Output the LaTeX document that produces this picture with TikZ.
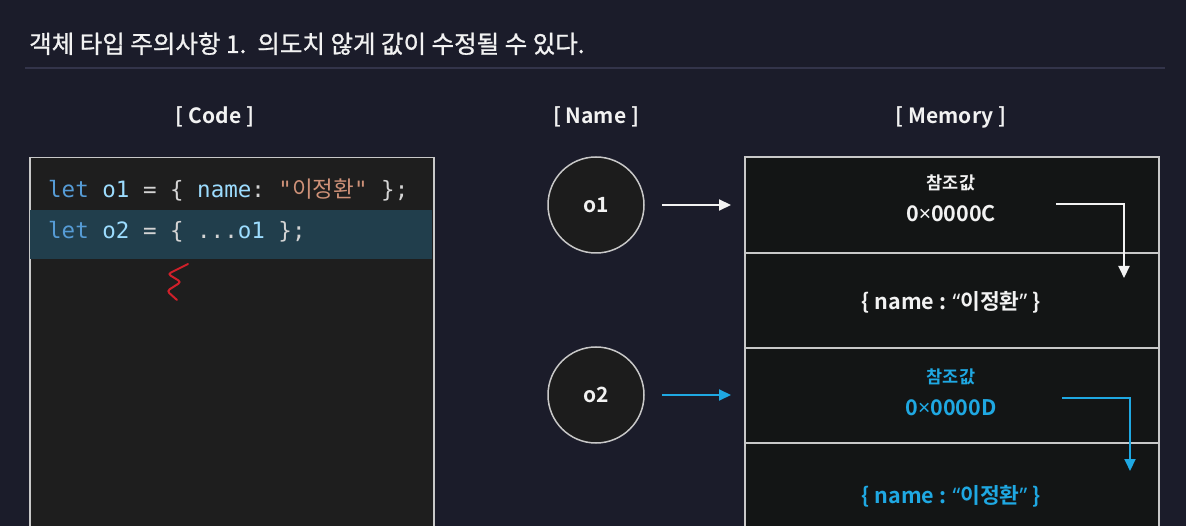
\documentclass[tikz,border=0pt]{standalone}
\usepackage{fontspec}
\setmainfont{Noto Sans CJK KR}[BoldFont={Noto Sans CJK KR Bold}]
\setmonofont{DejaVu Sans Mono}
\newfontfamily\hangulmono{Noto Sans CJK KR}
\newfontfamily\titlefont{Noto Sans CJK KR}[FakeBold=1]
\newfontfamily\latinsans{Noto Sans}
\newcommand{\mtimes}{{\latinsans ×}}
\newcommand{\openq}{{\latinsans “}}
\newcommand{\closeq}{{\latinsans ”}}
\usetikzlibrary{arrows.meta,positioning}

\definecolor{bgnavy}{HTML}{1B1C2A}
\definecolor{rulegray}{HTML}{33344A}
\definecolor{linegray}{HTML}{C8C8C8}
\definecolor{codefill}{HTML}{1E1E1E}
\definecolor{hlteal}{HTML}{213E4C}
\definecolor{memfill}{HTML}{131515}
\definecolor{circfill}{HTML}{1C1C1C}
\definecolor{kwblue}{HTML}{569CD6}
\definecolor{varblue}{HTML}{9CDCFE}
\definecolor{punct}{HTML}{D4D4D4}
\definecolor{strorange}{HTML}{CE9178}
\definecolor{copyblue}{HTML}{1FA8E2}
\definecolor{redmark}{HTML}{D0202A}
\definecolor{textwhite}{HTML}{F2F2F2}

\begin{document}
\begin{tikzpicture}[
    x=1pt, y=-1pt,
    cell/.style={rectangle, draw=linegray, line width=1.5pt, fill=memfill, minimum width=414pt, minimum height=95pt, inner sep=0pt, outer sep=0pt},
    namecircle/.style={circle, draw=linegray, line width=1.5pt, fill=circfill, minimum size=96pt, text=textwhite, font=\bfseries\fontsize{21}{24}\selectfont},
    header/.style={text=textwhite, font=\bfseries\fontsize{21}{24}\selectfont},
    memtext/.style={inner sep=0pt, font=\bfseries\fontsize{21.5}{24}\selectfont},
    reftext/.style={inner sep=0pt, font=\bfseries\fontsize{17.5}{20}\selectfont},
    codeline/.style={anchor=base west, inner sep=0pt, font=\ttfamily\fontsize{22.5}{26}\selectfont},
    arrow/.style={-{Triangle[length=12pt,width=11pt]}, line width=2pt}
]
    \path[use as bounding box, clip] (0,0) rectangle (1186,526);
    \fill[bgnavy] (0,0) rectangle (1186,526);

    % title
    \node[anchor=base west, inner sep=0pt, text=textwhite, font=\titlefont\fontsize{24.5}{28}\selectfont] (title) at (29,53) {객체 타입 주의사항 1.\ \ 의도치 않게 값이 수정될 수 있다.};
    \draw[rulegray, line width=1.5pt] (25,68) -- (1165,68);

    % column headers
    \node[header] (codehead) at (215,117) {[ Code ]};
    \node[header] (namehead) at (596,117) {[ Name ]};
    \node[header] (memhead) at (951,117) {[ Memory ]};

    % code panel
    \node[rectangle, draw=linegray, line width=1.5pt, fill=codefill, minimum width=404pt, minimum height=390pt, anchor=north west] (code) at (29,157) {};
    \fill[hlteal] (30,210) rectangle (432,259);
    \node[codeline] (line1) at (48,198) {\color{kwblue}let \color{varblue}o1 \color{punct}= \{ \color{varblue}name\color{punct}: \color{strorange}"{\hangulmono 이정환}" \color{punct}\};};
    \node[codeline] (line2) at (48,239) {\color{kwblue}let \color{varblue}o2 \color{punct}= \{ ...\color{varblue}o1 \color{punct}\};};
    \draw[redmark, line width=2pt, rounded corners=3pt, line cap=round] (188,264) -- (168,274) -- (181,282) -- (167,291) -- (177,300);

    % names
    \node[namecircle] (o1) at (596,205) {o1};
    \node[namecircle] (o2) at (596,395) {o2};

    % memory cells
    \node[cell, minimum height=96pt] (mem1) at (952,205) {};
    \node[cell, below=0pt of mem1] (mem2) {};
    \node[cell, below=0pt of mem2] (mem3) {};
    \node[cell, below=0pt of mem3] (mem4) {};

    \node[reftext, text=textwhite] (ref1) at (951,183) {참조값};
    \node[memtext, text=textwhite] (addr1) at (951,214) {0\mtimes0000C};
    \node[memtext, text=textwhite] (val1) at (951,302) {\{ name : \openq 이정환\closeq\ \}};
    \node[reftext, text=copyblue] (ref2) at (951,377) {참조값};
    \node[memtext, text=copyblue] (addr2) at (951,408) {0\mtimes0000D};
    \node[memtext, text=copyblue] (val2) at (951,496) {\{ name : \openq 이정환\closeq\ \}};

    \coordinate (ptr1) at (1056,204);
    \coordinate (ptrend1) at (1124,278);
    \coordinate (ptr2) at (1062,398);
    \coordinate (ptrend2) at (1130,471);

    \draw[arrow, textwhite, shorten <=17pt, shorten >=14pt] (o1.east) -- (mem1.west |- o1.east);
    \draw[arrow, copyblue, shorten <=17pt, shorten >=14pt] (o2.east) -- (mem3.west |- o2.east);
    \draw[arrow, textwhite] (ptr1) -| (ptrend1);
    \draw[arrow, copyblue] (ptr2) -| (ptrend2);
\end{tikzpicture}
\end{document}
